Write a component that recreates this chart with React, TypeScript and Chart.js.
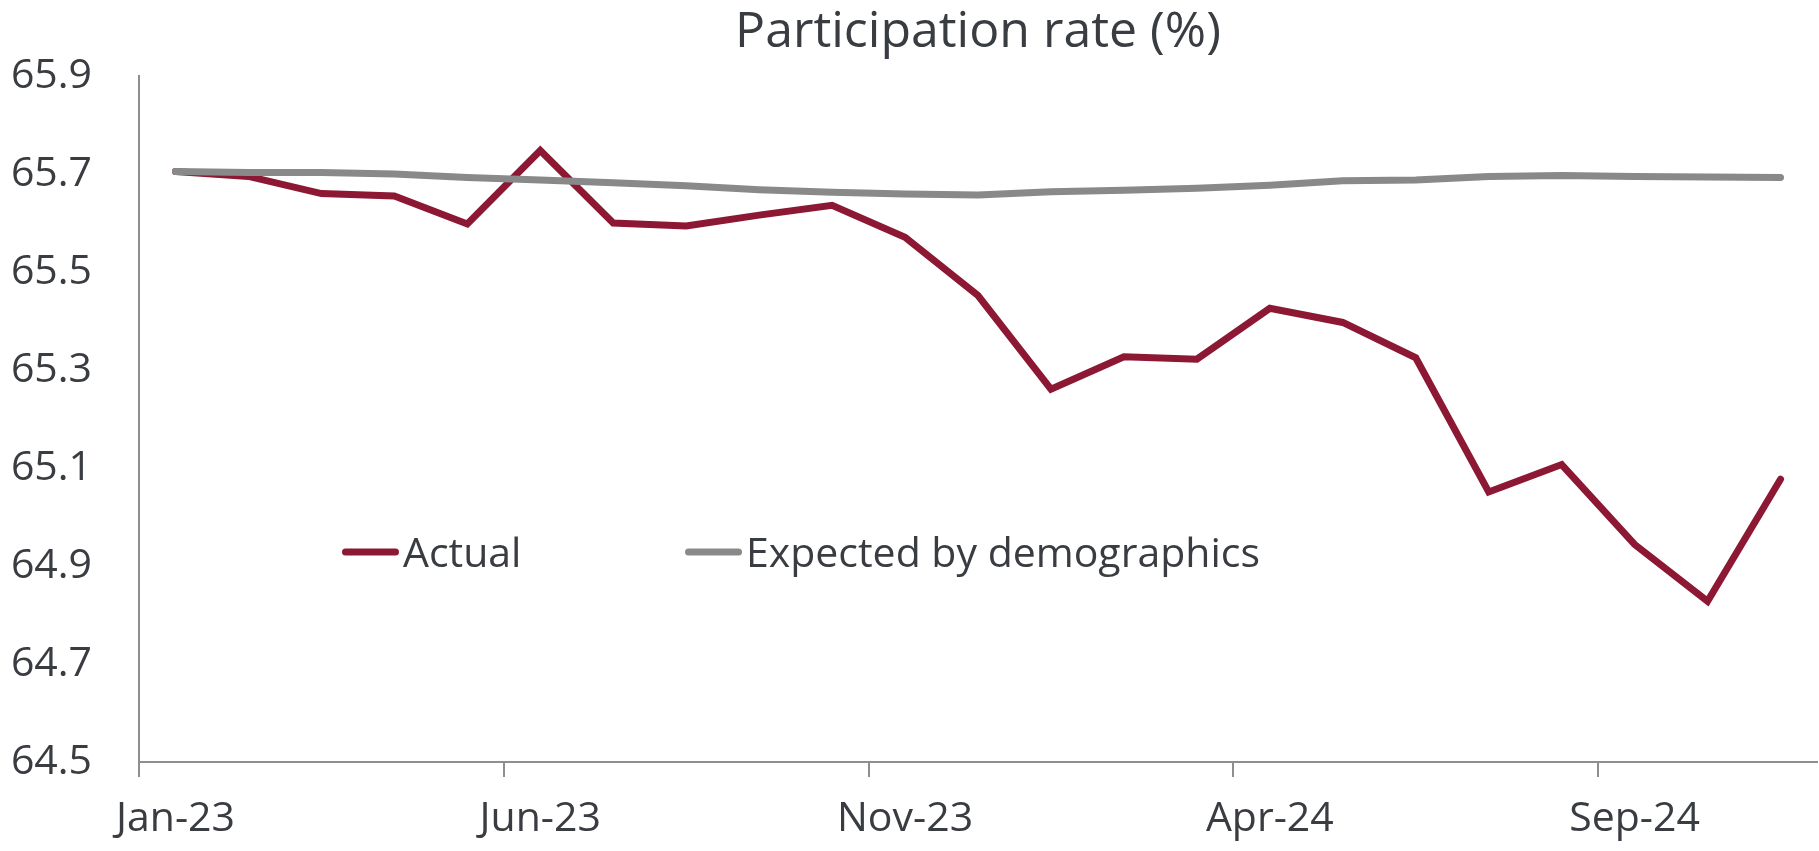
import React, { useEffect, useRef } from 'react';
import { Chart, registerables } from 'chart.js';

Chart.register(...registerables);

// ---- Data ----
const chartTitle = 'Participation rate (%)';
const months = [
  'Jan-23', 'Feb-23', 'Mar-23', 'Apr-23', 'May-23', 'Jun-23', 'Jul-23', 'Aug-23',
  'Sep-23', 'Oct-23', 'Nov-23', 'Dec-23', 'Jan-24', 'Feb-24', 'Mar-24', 'Apr-24',
  'May-24', 'Jun-24', 'Jul-24', 'Aug-24', 'Sep-24', 'Oct-24', 'Nov-24',
];
const actual = [
  65.705, 65.695, 65.66, 65.655, 65.598, 65.748, 65.6, 65.594, 65.616, 65.636,
  65.571, 65.452, 65.261, 65.327, 65.322, 65.426, 65.397, 65.325, 65.051, 65.107,
  64.944, 64.828, 65.077,
];
const expected = [
  65.705, 65.703, 65.703, 65.7, 65.693, 65.688, 65.682, 65.676, 65.668, 65.663,
  65.659, 65.657, 65.664, 65.667, 65.671, 65.677, 65.686, 65.688, 65.695, 65.697,
  65.695, 65.694, 65.693,
];
const seriesNames = ['Actual', 'Expected by demographics'];
const yMin = 64.5;
const yMax = 65.9;
const yStep = 0.2;
const labelEvery = 5;

// ---- Styles ----
const FONT = "'Open Sans', 'Noto Sans', sans-serif";
const TEXT = '#393c41';
const RED = '#8c1834';
const GRAY = '#898989';
const AXIS = '#8e8e8e';

const overlayPlugin = {
  id: 'overlay',
  afterDraw(chart: any) {
    const { ctx, chartArea } = chart;
    ctx.save();
    // title centred over plot area
    ctx.fillStyle = TEXT;
    ctx.font = `50px ${FONT}`;
    ctx.textAlign = 'center';
    ctx.textBaseline = 'alphabetic';
    ctx.fillText(chartTitle, (chartArea.left + chartArea.right) / 2, 47);

    // legend inside plot
    const items = chart.data.datasets.map((d: any) => ({ label: d.label, color: d.borderColor }));
    const xs = [342, 685];
    const ly = 552;
    items.forEach((it: any, i: number) => {
      const x0 = xs[i];
      ctx.strokeStyle = it.color;
      ctx.lineWidth = 7;
      ctx.lineCap = 'round';
      ctx.beginPath();
      ctx.moveTo(x0 + 3.5, ly);
      ctx.lineTo(x0 + 57 - 3.5, ly);
      ctx.stroke();
      ctx.fillStyle = TEXT;
      ctx.font = `41px ${FONT}`;
      ctx.textAlign = 'left';
      ctx.textBaseline = 'alphabetic';
      ctx.fillText(it.label, x0 + 61, 567);
    });
    ctx.restore();
  },
};

export default function App() {
  const ref = useRef<HTMLCanvasElement | null>(null);

  useEffect(() => {
    if (!ref.current) return;
    const chart = new Chart(ref.current, {
      type: 'line',
      data: {
        labels: months,
        datasets: [
          {
            label: seriesNames[0],
            data: actual,
            borderColor: RED,
            backgroundColor: RED,
            borderWidth: 7,
            pointRadius: 0,
            tension: 0,
            borderCapStyle: 'round',
            borderJoinStyle: 'miter',
            order: 1,
          },
          {
            label: seriesNames[1],
            data: expected,
            borderColor: GRAY,
            backgroundColor: GRAY,
            borderWidth: 7,
            pointRadius: 0,
            tension: 0,
            borderCapStyle: 'round',
            borderJoinStyle: 'round',
            order: 0,
          },
        ],
      },
      options: {
        responsive: false,
        animation: false,
        layout: { padding: { top: 76, left: 0, right: 2, bottom: 0 } },
        plugins: {
          legend: { display: false },
          title: { display: false },
          tooltip: { enabled: false },
        },
        scales: {
          x: {
            type: 'category',
            offset: true,
            grid: {
              offset: true,
              drawOnChartArea: false,
              drawTicks: true,
              tickLength: 15,
              lineWidth: 2,
              tickWidth: 2,
              tickColor: (c: any) => (c.index % labelEvery === 0 && c.index < months.length ? AXIS : 'rgba(0,0,0,0)'),
              color: 'rgba(0,0,0,0)',
            },
            border: { display: true, color: AXIS, width: 2 },
            ticks: {
              autoSkip: false,
              maxRotation: 0,
              minRotation: 0,
              padding: 18,
              color: TEXT,
              font: { family: FONT, size: 41 },
              callback: function (this: any, value: any, index: number) {
                return index % labelEvery === 0 ? months[index] : '';
              },
            },
            afterFit: (scale: any) => {
              scale.height = 89;
            },
          },
          y: {
            type: 'linear',
            min: yMin,
            max: yMax,
            grid: { display: true, drawOnChartArea: false, drawTicks: false },
            border: { display: true, color: AXIS, width: 2 },
            ticks: {
              stepSize: yStep,
              padding: 47,
              color: TEXT,
              font: { family: FONT, size: 41 },
              callback: (v: any) => Number(v).toFixed(1),
            },
            afterFit: (scale: any) => {
              scale.width = 139;
            },
          },
        },
      },
      plugins: [overlayPlugin],
    });
    return () => chart.destroy();
  }, []);

  return (
    <div style={{ position: 'absolute', left: 0, top: 0, width: 1819, height: 851, background: '#fff' }}>
      <canvas ref={ref} width={1819} height={851} style={{ display: 'block' }} />
    </div>
  );
}
